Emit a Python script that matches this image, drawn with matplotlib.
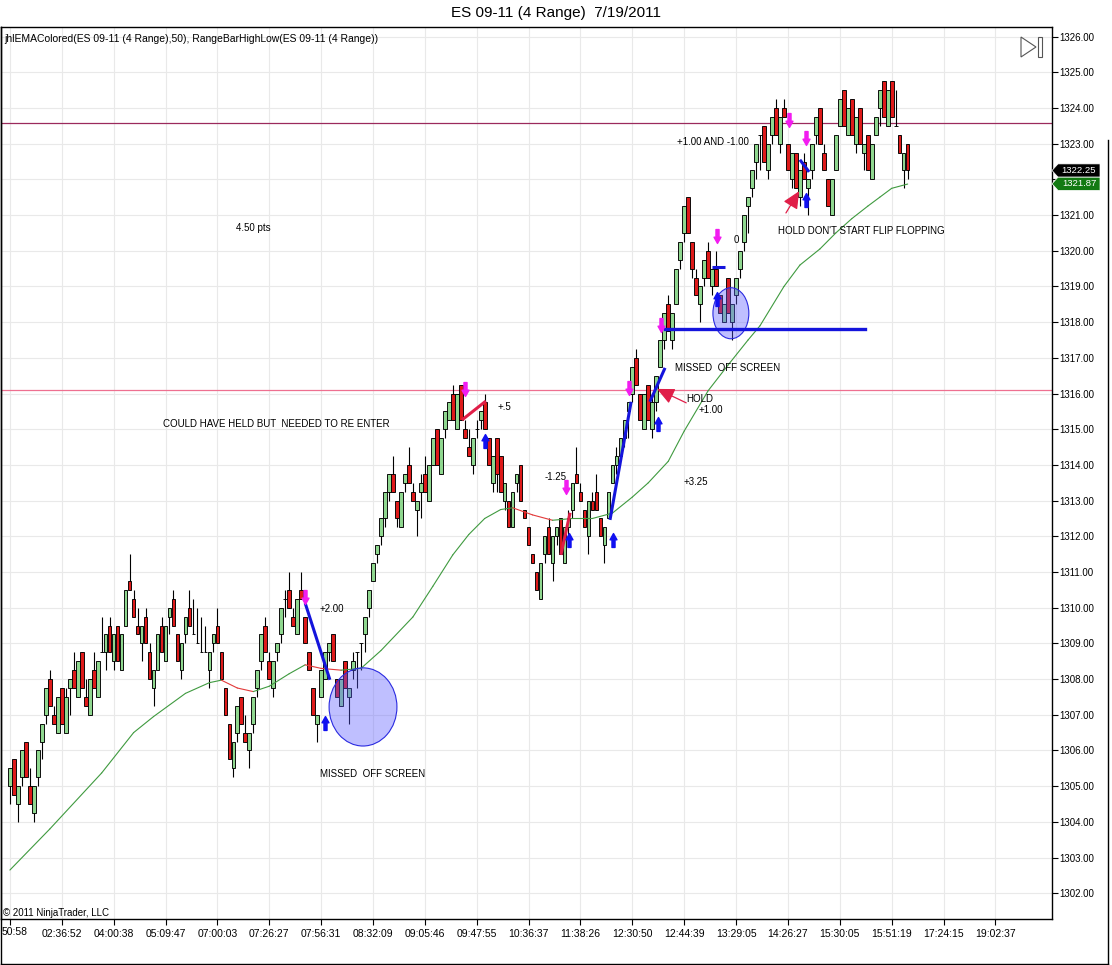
import numpy as np
import matplotlib
matplotlib.use('Agg')
import matplotlib.pyplot as plt
from matplotlib.path import Path
from matplotlib.patches import Ellipse, Polygon
from matplotlib.lines import Line2D

plt.rcParams['font.family'] = ['Liberation Sans', 'DejaVu Sans']

# ES 09-11, 4-tick range bars, 7/19/2011
opens = [
    1305.0, 1305.75, 1304.5, 1305.25, 1306.25, 1305.0, 1304.25, 1305.25, 1306.25, 1307.0,
    1308.0, 1307.0, 1306.5, 1307.75, 1306.5, 1307.75, 1308.25, 1307.5, 1308.75, 1307.5,
    1307.0, 1308.25, 1307.5, 1308.75, 1308.75, 1309.5, 1308.5, 1309.5, 1308.25, 1309.5,
    1310.75, 1310.25, 1309.5, 1309.0, 1309.75, 1308.75, 1307.75, 1308.25, 1309.5, 1308.5,
    1309.75, 1310.25, 1309.25, 1308.25, 1309.25, 1310.0, 1309.25, 1309.0, 1308.75, 1308.75,
    1308.25, 1309.0, 1309.5, 1308.75, 1307.75, 1306.75, 1305.5, 1306.5, 1307.5, 1306.5,
    1306.0, 1306.75, 1307.75, 1308.5, 1309.5, 1308.5, 1307.75, 1308.75, 1309.25, 1310.25,
    1310.5, 1309.75, 1309.25, 1310.5, 1309.75, 1308.75, 1307.75, 1306.75, 1307.5, 1308.0,
    1308.75, 1309.25, 1308.0, 1307.25, 1308.5, 1307.5, 1308.25, 1308.75, 1309.0, 1309.25,
    1310.0, 1310.75, 1311.5, 1312.0, 1312.5, 1313.25, 1313.75, 1313.0, 1312.25, 1313.5,
    1314.0, 1313.25, 1312.75, 1313.25, 1313.75, 1313.0, 1314.0, 1315.0, 1313.75, 1315.0,
    1315.25, 1316.0, 1315.0, 1316.25, 1315.0, 1314.5, 1314.0, 1315.0, 1315.25, 1315.75,
    1314.75, 1313.5, 1314.75, 1314.25, 1313.0, 1313.0, 1312.25, 1313.5, 1314.0, 1312.75,
    1312.25, 1311.5, 1311.0, 1310.25, 1311.5, 1312.25, 1311.25, 1312.0, 1312.5, 1311.25,
    1312.25, 1312.75, 1313.75, 1313.25, 1312.75, 1312.0, 1313.0, 1313.25, 1312.5, 1311.75,
    1312.5, 1313.5, 1314.0, 1314.25, 1314.75, 1315.5, 1316.0, 1317.0, 1316.0, 1315.0,
    1316.25, 1315.0, 1315.75, 1316.75, 1317.5, 1318.5, 1317.5, 1318.5, 1319.75, 1320.5,
    1321.5, 1320.25, 1319.25, 1318.5, 1319.25, 1320.0, 1319.0, 1319.5, 1318.75, 1318.0,
    1319.25, 1318.0, 1318.75, 1319.5, 1320.25, 1321.25, 1321.75, 1322.5, 1323.25, 1323.5,
    1322.25, 1323.25, 1324.0, 1323.0, 1324.0, 1323.0, 1322.0, 1322.75, 1321.5, 1322.5,
    1321.75, 1322.25, 1323.25, 1324.0, 1322.75, 1322.0, 1321.0, 1322.25, 1323.5, 1324.5,
    1323.25, 1324.25, 1323.0, 1324.0, 1322.75, 1323.25, 1322.0, 1323.25, 1324.0, 1324.75,
    1323.5, 1324.75, 1323.5, 1323.25, 1322.25, 1323.0,
]
highs = [
    1305.5, 1305.75, 1305.0, 1306.0, 1306.25, 1305.5, 1305.0, 1306.0, 1306.75, 1307.75,
    1308.25, 1307.25, 1307.5, 1307.75, 1307.75, 1308.0, 1308.75, 1308.5, 1308.75, 1308.0,
    1308.0, 1308.75, 1308.5, 1309.75, 1309.25, 1309.75, 1309.25, 1309.5, 1309.25, 1310.5,
    1311.5, 1310.5, 1310.0, 1309.5, 1310.0, 1309.0, 1308.25, 1309.25, 1309.75, 1309.5,
    1310.0, 1310.5, 1309.25, 1309.0, 1309.75, 1310.5, 1310.25, 1310.0, 1309.75, 1309.5,
    1308.75, 1309.25, 1310.0, 1308.75, 1307.75, 1306.75, 1306.25, 1307.25, 1307.5, 1307.0,
    1306.5, 1307.5, 1308.25, 1309.25, 1309.75, 1308.75, 1308.5, 1309.0, 1310.0, 1310.5,
    1311.0, 1310.0, 1310.25, 1311.0, 1309.75, 1308.75, 1307.75, 1307.0, 1308.25, 1308.75,
    1309.0, 1309.25, 1308.0, 1308.0, 1308.5, 1307.75, 1308.75, 1308.75, 1309.0, 1309.75,
    1310.5, 1311.25, 1311.75, 1312.5, 1313.25, 1313.75, 1314.25, 1313.0, 1313.25, 1313.75,
    1314.5, 1313.5, 1313.0, 1313.75, 1314.25, 1314.0, 1314.75, 1315.0, 1314.75, 1315.5,
    1315.75, 1316.25, 1316.0, 1316.25, 1315.25, 1315.0, 1314.75, 1315.25, 1315.5, 1316.0,
    1314.75, 1314.25, 1314.75, 1314.25, 1313.5, 1313.0, 1313.25, 1313.75, 1314.0, 1312.75,
    1312.25, 1311.5, 1311.0, 1311.25, 1312.0, 1312.5, 1312.0, 1312.25, 1312.5, 1312.25,
    1312.75, 1313.5, 1314.5, 1313.5, 1312.75, 1313.0, 1313.25, 1313.75, 1312.5, 1312.25,
    1313.25, 1314.0, 1314.5, 1314.75, 1315.25, 1315.75, 1316.75, 1317.25, 1316.0, 1316.0,
    1316.25, 1316.0, 1316.5, 1317.5, 1318.25, 1318.75, 1318.25, 1319.5, 1320.25, 1321.25,
    1321.5, 1320.25, 1319.5, 1319.0, 1319.75, 1320.25, 1319.5, 1320.0, 1318.75, 1318.5,
    1319.25, 1318.5, 1319.25, 1320.0, 1321.0, 1321.5, 1322.25, 1323.0, 1323.25, 1323.5,
    1323.0, 1323.75, 1324.25, 1323.75, 1324.25, 1323.0, 1322.75, 1322.75, 1322.25, 1322.75,
    1322.0, 1323.0, 1323.75, 1324.0, 1323.0, 1322.0, 1322.0, 1323.25, 1324.25, 1324.5,
    1324.0, 1324.25, 1323.75, 1324.0, 1323.0, 1323.25, 1323.0, 1323.75, 1324.5, 1324.75,
    1324.5, 1324.75, 1324.5, 1323.25, 1322.75, 1323.0,
]
lows = [
    1304.5, 1304.75, 1304.0, 1305.0, 1305.25, 1304.5, 1304.0, 1305.0, 1305.75, 1306.75,
    1307.25, 1306.75, 1306.5, 1306.75, 1306.5, 1307.0, 1307.75, 1307.5, 1307.75, 1307.25,
    1307.0, 1307.75, 1307.5, 1308.75, 1308.25, 1308.75, 1308.25, 1308.5, 1308.25, 1309.5,
    1310.5, 1309.75, 1309.25, 1308.5, 1309.0, 1308.0, 1307.25, 1308.25, 1308.75, 1308.5,
    1309.25, 1309.5, 1308.5, 1308.0, 1309.0, 1309.5, 1309.25, 1309.0, 1308.75, 1308.75,
    1307.75, 1308.75, 1309.0, 1308.0, 1307.0, 1305.75, 1305.25, 1306.25, 1306.75, 1306.25,
    1305.5, 1306.5, 1307.5, 1308.25, 1308.75, 1308.0, 1307.5, 1308.5, 1309.0, 1309.75,
    1310.0, 1309.5, 1309.25, 1310.25, 1309.0, 1308.25, 1307.0, 1306.25, 1307.5, 1308.0,
    1308.5, 1308.5, 1307.5, 1307.25, 1307.75, 1306.75, 1308.0, 1307.75, 1308.25, 1308.75,
    1309.75, 1310.75, 1311.25, 1311.75, 1312.25, 1313.0, 1313.25, 1312.25, 1312.25, 1313.25,
    1313.5, 1313.0, 1312.0, 1312.5, 1313.25, 1313.0, 1314.0, 1314.0, 1313.75, 1314.75,
    1315.25, 1315.25, 1315.0, 1315.25, 1314.75, 1314.25, 1313.75, 1314.75, 1315.0, 1315.0,
    1314.0, 1313.25, 1313.25, 1313.25, 1312.75, 1312.25, 1312.25, 1313.25, 1313.0, 1312.5,
    1311.75, 1311.25, 1310.5, 1310.25, 1311.25, 1311.5, 1310.75, 1311.75, 1311.5, 1311.25,
    1312.0, 1312.5, 1313.5, 1313.0, 1312.25, 1311.5, 1312.75, 1312.75, 1312.0, 1311.25,
    1312.5, 1313.5, 1313.75, 1314.0, 1314.5, 1314.75, 1315.75, 1316.25, 1315.25, 1315.0,
    1315.25, 1314.75, 1315.5, 1316.75, 1317.25, 1317.75, 1317.25, 1318.5, 1319.5, 1320.25,
    1320.5, 1319.25, 1318.75, 1318.0, 1319.0, 1319.25, 1318.75, 1319.0, 1318.25, 1318.0,
    1318.25, 1317.5, 1318.5, 1319.25, 1320.0, 1320.5, 1321.5, 1322.0, 1322.25, 1322.5,
    1322.0, 1323.0, 1323.25, 1322.75, 1323.75, 1322.25, 1321.75, 1321.75, 1321.25, 1322.0,
    1321.0, 1322.0, 1323.0, 1323.0, 1322.25, 1321.25, 1321.0, 1322.25, 1323.5, 1323.5,
    1323.25, 1323.25, 1322.75, 1323.0, 1322.25, 1322.25, 1322.0, 1323.25, 1323.5, 1323.75,
    1323.5, 1323.75, 1323.5, 1322.75, 1321.75, 1322.0,
]
closes = [
    1305.5, 1304.75, 1305.0, 1306.0, 1305.25, 1304.5, 1305.0, 1306.0, 1306.75, 1307.75,
    1307.25, 1306.75, 1307.5, 1306.75, 1307.5, 1308.0, 1307.75, 1308.5, 1307.75, 1307.25,
    1308.0, 1307.75, 1308.5, 1308.75, 1309.25, 1308.75, 1309.25, 1308.5, 1309.25, 1310.5,
    1310.5, 1309.75, 1309.25, 1309.5, 1309.0, 1308.0, 1308.25, 1309.25, 1308.75, 1309.5,
    1310.0, 1309.5, 1308.5, 1309.0, 1309.75, 1309.5, 1309.25, 1309.0, 1308.75, 1308.75,
    1308.75, 1309.25, 1309.0, 1308.0, 1307.0, 1305.75, 1306.25, 1307.25, 1306.75, 1306.25,
    1306.5, 1307.5, 1308.25, 1309.25, 1308.75, 1308.0, 1308.5, 1309.0, 1310.0, 1310.25,
    1310.0, 1309.5, 1310.25, 1310.25, 1309.0, 1308.25, 1307.0, 1307.0, 1308.25, 1308.75,
    1309.0, 1308.5, 1307.5, 1308.0, 1307.75, 1307.75, 1308.5, 1308.75, 1309.0, 1309.75,
    1310.5, 1311.25, 1311.75, 1312.5, 1313.25, 1313.75, 1313.25, 1312.5, 1313.25, 1313.75,
    1313.5, 1313.0, 1313.0, 1313.5, 1313.25, 1314.0, 1314.75, 1314.0, 1314.75, 1315.5,
    1315.75, 1315.25, 1316.0, 1315.25, 1314.75, 1314.25, 1314.75, 1315.0, 1315.5, 1315.0,
    1314.0, 1314.25, 1313.75, 1313.25, 1313.5, 1312.25, 1313.25, 1313.75, 1313.0, 1312.5,
    1311.75, 1311.25, 1310.5, 1311.25, 1312.0, 1311.5, 1312.0, 1312.25, 1311.5, 1312.25,
    1312.5, 1313.5, 1313.5, 1313.0, 1312.25, 1313.0, 1312.75, 1312.75, 1312.0, 1312.25,
    1313.25, 1314.0, 1314.25, 1314.75, 1315.25, 1315.75, 1316.75, 1316.25, 1315.25, 1316.0,
    1315.25, 1315.75, 1316.5, 1317.5, 1318.25, 1317.75, 1318.25, 1319.5, 1320.25, 1321.25,
    1320.5, 1319.5, 1318.75, 1319.0, 1319.75, 1319.25, 1319.5, 1319.0, 1318.25, 1318.5,
    1318.25, 1318.5, 1319.25, 1320.0, 1321.0, 1321.5, 1322.25, 1323.0, 1323.25, 1322.5,
    1323.0, 1323.75, 1323.25, 1323.75, 1323.75, 1322.25, 1322.75, 1321.75, 1322.25, 1322.0,
    1322.0, 1323.0, 1323.75, 1323.0, 1322.25, 1321.25, 1322.0, 1323.25, 1324.25, 1323.5,
    1324.0, 1323.25, 1323.75, 1323.0, 1323.0, 1322.25, 1323.0, 1323.75, 1324.5, 1323.75,
    1324.5, 1323.75, 1323.5, 1322.75, 1322.75, 1322.25,
]

# jhlEMAColored(50) read at a set of bars
ema_bars = [0, 10, 23, 31, 36, 44, 50, 53, 57, 61, 65, 70, 74, 78, 83, 88, 93, 101,
            106, 111, 115, 119, 123, 126, 131, 136, 141, 146, 151, 156, 160, 165, 169,
            175, 180, 185, 188, 194, 198, 203, 207, 211, 215, 218, 221, 225]
ema_vals = [1302.65, 1303.8, 1305.37, 1306.5, 1306.95, 1307.6, 1307.9, 1307.97, 1307.75,
            1307.65, 1307.8, 1308.15, 1308.4, 1308.3, 1308.25, 1308.3, 1308.8, 1309.74,
            1310.6, 1311.48, 1312.05, 1312.5, 1312.75, 1312.8, 1312.6, 1312.45, 1312.5,
            1312.5, 1312.65, 1313.1, 1313.5, 1314.1, 1314.95, 1316.08, 1316.8, 1317.5,
            1317.9, 1319.0, 1319.6, 1320.05, 1320.5, 1320.9, 1321.25, 1321.5, 1321.75,
            1321.87]

time_labels = ['50:58', '02:36:52', '04:00:38', '05:09:47', '07:00:03', '07:26:27',
               '07:56:31', '08:32:09', '09:05:46', '09:47:55', '10:36:37', '11:38:26',
               '12:30:50', '12:44:39', '13:29:05', '14:26:27', '15:30:05', '15:51:19',
               '17:24:15', '19:02:37']
bars_per_label = 13
price_ticks = np.arange(1302, 1327)

# levels / trade marks drawn by hand on the chart
level_hi, level_lo = 1323.57, 1316.09
sell_marks = [(74.0, 1310.3), (114.1, 1316.13), (139.4, 1313.37), (155.2, 1316.16),
              (163.2, 1317.92), (177.2, 1320.41), (195.3, 1323.66), (199.5, 1323.16)]
buy_marks = [(79.0, 1306.76), (119.1, 1314.67), (140.1, 1311.9), (151.2, 1311.9),
             (162.4, 1315.15), (177.2, 1318.65), (199.5, 1321.42)]

W, H = 1112, 965
GREEN, RED = '#8fd78f', '#de1a1a'
BLUE, CRIMSON = '#1414dc', '#e01e48'

fig = plt.figure(figsize=(W / 100, H / 100), dpi=100)
ax = fig.add_axes([1 / W, 1 - 919.3 / H, 1051 / W, (919.3 - 27) / H])


def px(x, y):
    return (x / W, 1 - y / H)


# candles
x = np.arange(len(opens))
o = np.array(opens)
c = np.array(closes)
up = c >= o
ax.vlines(x, lows, highs, color='black', lw=0.8, zorder=2)
ax.bar(x, np.abs(c - o), bottom=np.minimum(o, c), width=0.92,
       color=np.where(up, GREEN, RED), edgecolor='black', linewidth=0.65, zorder=3)

# ema, red where falling
eb = np.array(ema_bars)
ev = np.array(ema_vals)
for k in range(len(eb) - 1):
    col = '#e23a3a' if ev[k + 1] < ev[k] else '#3f9a3f'
    ax.plot(eb[k:k + 2], ev[k:k + 2], color=col, lw=0.8, zorder=4,
            solid_capstyle='round')

ax.axhline(level_hi, color='#9b2a5c', lw=0.9, zorder=1.5)
ax.axhline(level_lo, color='#ee7090', lw=0.9, zorder=1.5)

# circles
ax.add_patch(Ellipse((88.5, 1307.22), 17.0, 2.19, facecolor=(0.35, 0.35, 1.0, 0.38),
                     edgecolor='#2a2ae0', lw=0.8, zorder=5))
ax.add_patch(Ellipse((180.7, 1318.25), 9.0, 1.43, facecolor=(0.35, 0.35, 1.0, 0.38),
                     edgecolor='#2a2ae0', lw=0.8, zorder=5))

# trade lines
ax.plot([164.2, 214.3], [1317.81, 1317.81], color=BLUE, lw=2.4, zorder=6)
for (x0, y0), (x1, y1), col in [
        ((74.0, 1310.13), (80.2, 1307.98), BLUE),
        ((113.3, 1315.26), (119.3, 1315.79), CRIMSON),
        ((138.1, 1311.48), (140.4, 1312.66), CRIMSON),
        ((150.4, 1312.46), (155.7, 1315.77), BLUE),
        ((160.4, 1315.77), (164.2, 1316.72), BLUE),
        ((176.0, 1319.55), (179.2, 1319.55), BLUE),
        ((198.0, 1322.55), (200.3, 1322.21), BLUE)]:
    ax.plot([x0, x1], [y0, y1], color=col, lw=2.2, zorder=6, solid_capstyle='butt')

# signal arrows
down = Path([(-0.11, 0.5), (0.11, 0.5), (0.11, -0.05), (0.25, -0.05), (0, -0.5),
             (-0.25, -0.05), (-0.11, -0.05), (-0.11, 0.5)], closed=True)
upw = Path([(-0.11, -0.5), (0.11, -0.5), (0.11, 0.05), (0.25, 0.05), (0, 0.5),
            (-0.25, 0.05), (-0.11, 0.05), (-0.11, -0.5)], closed=True)
sx, sy = zip(*sell_marks)
bx, by = zip(*buy_marks)
ax.plot(sx, sy, ls='none', marker=down, ms=10, color='#f21cf0', mec='#f21cf0', zorder=7)
ax.plot(bx, by, ls='none', marker=upw, ms=10, color='#1010f0', mec='#1010f0', zorder=7)

# hand drawn red arrows
for tip, tail in [((162.2, 1316.13), (169.5, 1315.74)),
                  ((197.8, 1321.67), (194.5, 1321.06))]:
    ax.annotate('', xy=tip, xytext=tail, zorder=8,
                arrowprops=dict(arrowstyle='-|>,head_length=0.75,head_width=0.35',
                                color=CRIMSON, lw=0.9, mutation_scale=14,
                                shrinkA=0, shrinkB=0))

notes = [
    (56.7, 1320.64, '4.50 pts'),
    (38.4, 1315.15, 'COULD HAVE HELD BUT  NEEDED TO RE ENTER'),
    (77.7, 1309.96, '+2.00'),
    (77.7, 1305.34, 'MISSED  OFF SCREEN'),
    (122.1, 1315.62, '+.5'),
    (133.9, 1313.66, '-1.25'),
    (168.9, 1313.52, '+3.25'),
    (169.5, 1315.85, 'HOLD'),
    (172.7, 1315.54, '+1.00'),
    (166.7, 1316.72, 'MISSED  OFF SCREEN'),
    (181.5, 1320.30, '0'),
    (167.2, 1323.05, '+1.00 AND -1.00'),
    (192.5, 1320.55, "HOLD DON'T START FLIP FLOPPING"),
]
for nx, ny, s in notes:
    ax.text(nx, ny, s, fontsize=7, ha='left', va='center', zorder=9)

# axes (the 1322 label sits under the price boxes, as on the screen)
ax.set_xlim(-2.23, 261.18)
ax.set_ylim(1301.27, 1326.27)
ax.yaxis.tick_right()
ax.set_yticks(price_ticks)
ax.set_yticklabels(['' if p == 1322 else f'{p:.2f}' for p in price_ticks])
ax.set_xticks(np.arange(len(time_labels)) * bars_per_label)
ax.set_xticklabels([''] + time_labels[1:])
ax.tick_params(axis='y', direction='out', length=4, width=0.8, pad=1, labelsize=7)
ax.tick_params(axis='x', direction='out', length=4, width=0.8, pad=3, labelsize=7.5)
ax.grid(color='#e9e9e9', lw=0.8)
ax.set_axisbelow(True)
for s in ax.spines.values():
    s.set_color('black')
    s.set_linewidth(1.0)

fig.text(*px(2, 932), time_labels[0], fontsize=7.5, ha='left', va='center')
fig.text(*px(556, 13), 'ES 09-11 (4 Range)  7/19/2011', fontsize=11, ha='center', va='center')
fig.text(*px(4, 39), 'jhlEMAColored(ES 09-11 (4 Range),50), RangeBarHighLow(ES 09-11 (4 Range))',
         fontsize=7.5, ha='left', va='center')
fig.text(*px(3, 913), '\u00a9 2011 NinjaTrader, LLC', fontsize=7, ha='left', va='center')

# last price / ema boxes on the axis
for yc, col, s in [(170.5, 'black', f'{closes[-1]:.2f}'), (183.8, '#127a12', f'{ema_vals[-1]:.2f}')]:
    pts = [px(1052, yc), px(1058, yc - 6.6), px(1100, yc - 6.6), px(1100, yc + 6.6), px(1058, yc + 6.6)]
    fig.add_artist(Polygon(pts, closed=True, facecolor=col, edgecolor='white', lw=0.5,
                           transform=fig.transFigure))
    fig.text(*px(1079, yc), s, color='white', fontsize=6.8, ha='center', va='center')

# scroll icon
fig.add_artist(Polygon([px(1021, 37), px(1021, 57), px(1036, 47)], closed=True, fill=False,
                       edgecolor='#555555', lw=0.8, transform=fig.transFigure))
fig.add_artist(Polygon([px(1038, 37), px(1042, 37), px(1042, 57), px(1038, 57)], closed=True,
                       fill=False, edgecolor='#555555', lw=0.8, transform=fig.transFigure))

# outer panel frame
for (xa, ya), (xb, yb) in [((0.5, 27), (0.5, 964)), ((0.5, 964), (1108, 964)),
                           ((1108, 140), (1108, 964))]:
    fig.add_artist(Line2D([xa / W, xb / W], [1 - ya / H, 1 - yb / H], color='black', lw=1.0,
                          transform=fig.transFigure))

fig.savefig('out.png', dpi=100, facecolor='white')
